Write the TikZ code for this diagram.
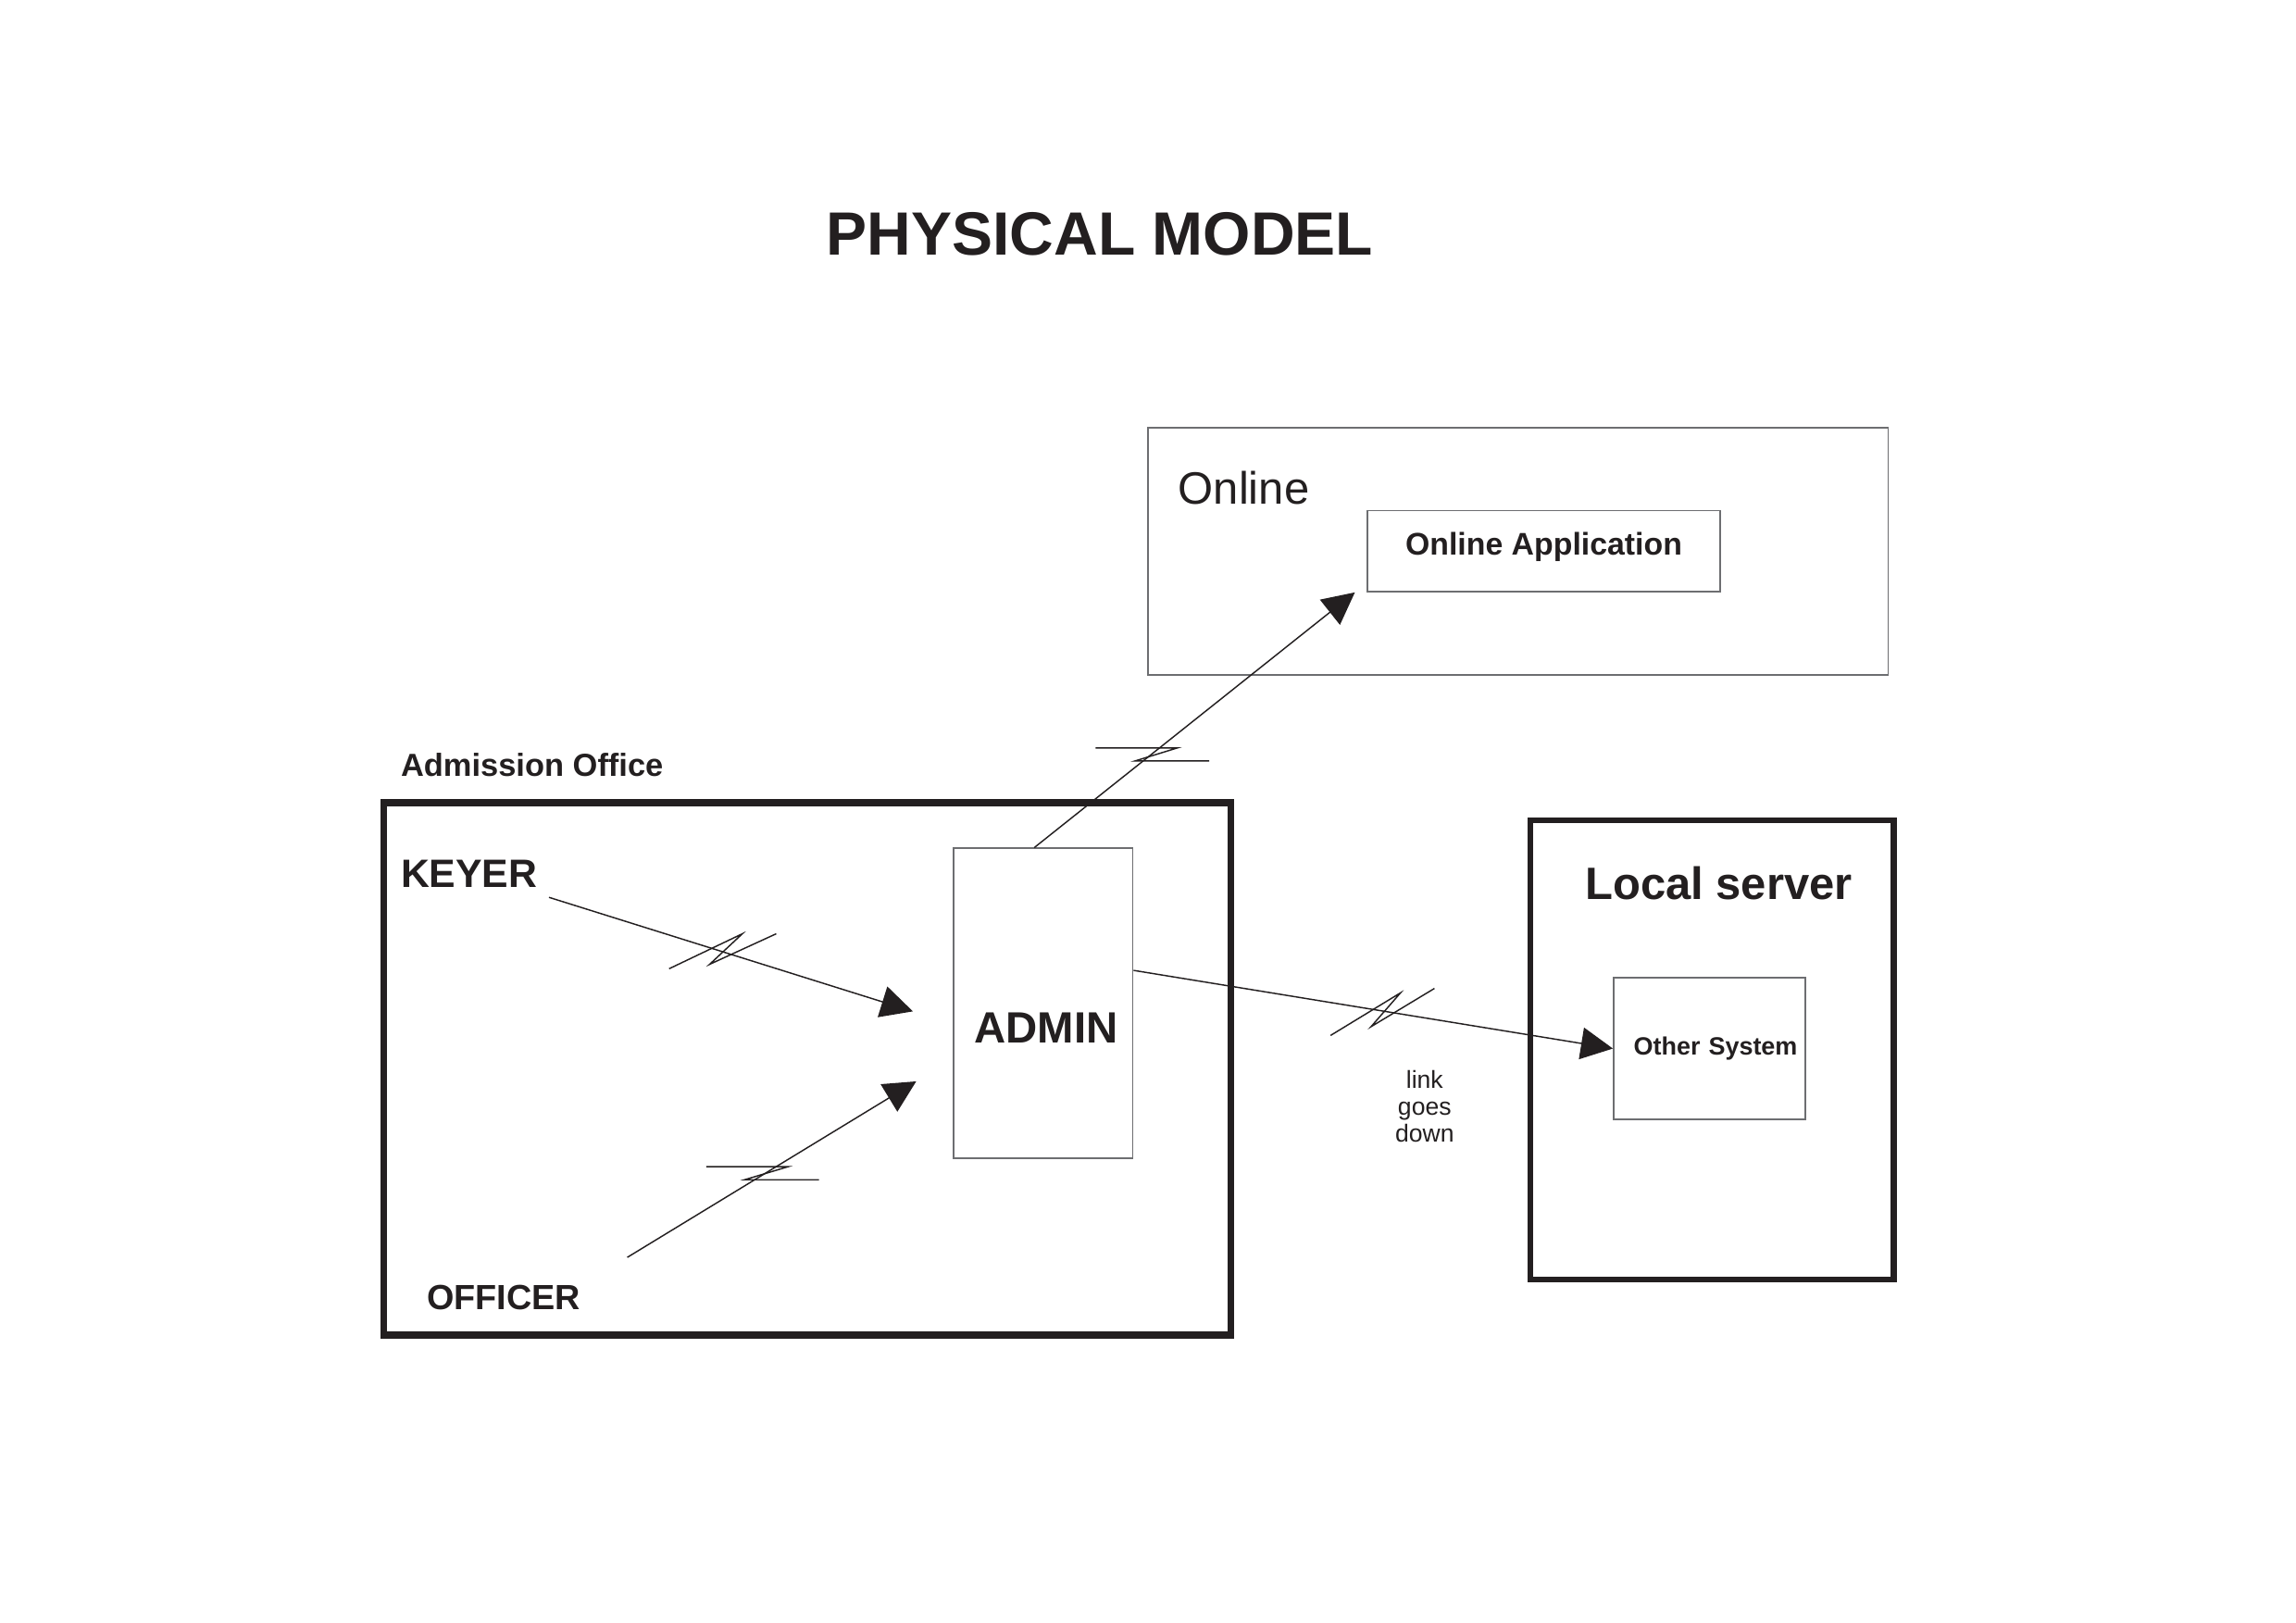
\documentclass[tikz,border=0pt]{standalone}
\usepackage{fontspec}
\setmainfont{Liberation Sans}
\usetikzlibrary{arrows.meta, positioning, calc}
\definecolor{inkblack}{HTML}{231F20}
\definecolor{framegray}{HTML}{6D6E71}

\begin{document}
\begin{tikzpicture}[
  thickbox/.style={draw=inkblack, line width=1.8pt, inner sep=0pt},
  thinbox/.style={draw=framegray, line width=0.45pt, inner sep=0pt, text=inkblack},
  flow/.style={draw=inkblack, line width=0.35pt, -{Triangle[length=8.3pt, width=8.3pt]}},
  brk/.style={draw=inkblack, line width=0.35pt},
  lbl/.style={text=inkblack, inner sep=0pt}
]
  \fill[white] (0,0) rectangle (21.0, -14.842);

  \node[lbl, anchor=base, font=\fontsize{15.9}{16}\selectfont\bfseries] (title) at (10.06, -2.33) {PHYSICAL MODEL};

  % Online side
  \node[thinbox, minimum width=6.77cm, minimum height=2.26cm] (online) at (13.885, -5.04) {};
  \node[lbl, anchor=base west, font=\fontsize{11.8}{12}\selectfont] (onlinelbl) at (10.77, -4.61) {Online};
  \node[thinbox, minimum width=3.22cm, minimum height=0.74cm, text depth=0.14cm, font=\fontsize{8.15}{9}\selectfont\bfseries] (onlineapp) at (14.12, -5.04) {Online Application};

  % Admission office
  \node[thickbox, minimum width=7.75cm, minimum height=4.87cm] (office) at (7.385, -9.775) {};
  \node[lbl, anchor=base west, font=\fontsize{8.3}{9}\selectfont\bfseries] (officelbl) at (3.66, -7.10) {Admission Office};
  \node[lbl, anchor=base west, font=\fontsize{10.3}{11}\selectfont\bfseries] (keyer) at (3.66, -8.12) {KEYER};
  \node[lbl, anchor=base west, font=\fontsize{9.1}{10}\selectfont\bfseries] (officer) at (3.90, -11.98) {OFFICER};
  \node[thinbox, minimum width=1.64cm, minimum height=2.83cm] (admin) at (9.54, -9.175) {};
  \node[lbl, anchor=base, font=\fontsize{11.4}{12}\selectfont\bfseries] (adminlbl) at (9.57, -9.54) {ADMIN};

  % Local server
  \node[thickbox, line width=1.5pt, minimum width=3.32cm, minimum height=4.20cm] (local) at (15.66, -9.60) {};
  \node[lbl, anchor=base, font=\fontsize{11.8}{12}\selectfont\bfseries] (locallbl) at (15.72, -8.23) {Local server};
  \node[thinbox, minimum width=1.75cm, minimum height=1.30cm, text width=1.61cm, align=right, font=\fontsize{6.5}{7}\selectfont\bfseries] (othersys) at (15.635, -9.59) {Other System};
  \node[lbl, align=center, font=\fontsize{6.4}{7}\selectfont] (linkdown) at (13.03, -10.12) {link\\goes\\down};

  % Links
  \coordinate (keyerend) at (8.35, -9.25);
  \coordinate (officerend) at (8.38, -9.89);
  \draw[flow] ([xshift=0.10cm, yshift=-0.08cm]keyer.south east) -- (keyerend);
  \draw[flow] ([xshift=0.42cm, yshift=0.25cm]officer.north east) -- (officerend);
  \draw[flow] ([xshift=-0.08cm]admin.north) -- ([xshift=-0.11cm]onlineapp.south west);
  \draw[flow] ([yshift=0.30cm]admin.east) -- (othersys.west);

  % Break marks on the links
  \draw[brk] (6.12,-8.86) -- (6.79,-8.54) -- (6.49,-8.82) -- (7.10,-8.54);
  \draw[brk] (6.46,-10.67) -- (7.21,-10.67) -- (6.81,-10.79) -- (7.49,-10.79);
  \draw[brk] (10.02,-6.84) -- (10.77,-6.84) -- (10.38,-6.96) -- (11.06,-6.96);
  \draw[brk] (12.17,-9.47) -- (12.81,-9.08) -- (12.54,-9.39) -- (13.12,-9.04);
\end{tikzpicture}
\end{document}
